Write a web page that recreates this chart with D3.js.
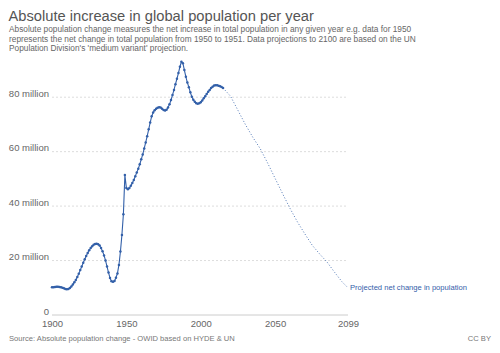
<!DOCTYPE html>
<html><head><meta charset="utf-8">
<script src="https://cdn.jsdelivr.net/npm/d3@7"></script>
<style>
html,body{margin:0;padding:0;background:#fff;}
svg{display:block;font-family:"Liberation Sans",Arial,Helvetica,sans-serif;}
</style></head>
<body>
<svg id="chart" width="500" height="353"></svg>
<script>
// ---- data (millions) ----
const histYears = d3.range(1900, 2016);
const histValues = [
 10.0,10.0,10.1,10.2,10.2,10.1,10.0,9.8,9.6,9.4,
 9.3,9.4,9.7,10.3,11.0,11.8,12.7,13.8,15.0,16.3,
 17.6,19.0,20.3,21.5,22.6,23.6,24.4,25.1,25.6,25.9,
 26.0,25.8,25.3,24.4,23.2,21.7,19.8,17.6,15.4,13.4,
 12.2,12.0,12.3,13.5,15.1,18.2,23.1,29.2,36.8,51.2,
 46.5,46.0,46.5,47.3,48.3,49.4,50.8,52.2,53.5,55.2,
 57.0,58.8,61.0,63.2,65.5,68.0,70.5,72.8,74.2,75.0,
 75.6,75.9,76.1,76.0,75.6,75.1,74.9,75.2,76.0,77.2,
 78.8,80.6,82.5,84.6,86.6,88.7,91.0,92.8,92.3,89.8,
 87.3,85.2,83.5,81.6,80.0,78.9,78.1,77.6,77.4,77.6,
 78.0,78.6,79.4,80.2,81.0,81.8,82.5,83.2,83.7,84.1,
 84.2,84.2,84.0,83.8,83.6,83.2
];
const projYears = [2015,2020,2025,2030,2035,2040,2045,2050,2055,2060,2065,2070,2075,2080,2085,2090,2095,2099];
const projValues = [83.2,80.2,75.0,69.8,65.1,60.9,55.6,50.0,44.4,39.0,34.0,29.6,25.4,22.2,19.2,15.5,12.0,9.8];
const yTicks = [0,20,40,60,80];
const xTicks = [1900,1950,2000,2050,2099];

const title = "Absolute increase in global population per year";
const subtitle = [
 "Absolute population change measures the net increase in total population in any given year e.g. data for 1950",
 "represents the net change in total population from 1950 to 1951. Data projections to 2100 are based on the UN",
 "Population Division's 'medium variant' projection."
];
const source = "Source: Absolute population change - OWID based on HYDE & UN";
const license = "CC BY";
const projLabel = "Projected net change in population";

const blue = "#3360a9";
const svg = d3.select("#chart");

const x = d3.scaleLinear().domain([1900, 2099]).range([52, 348]);
const y = d3.scaleLinear().domain([0, 80]).range([314.5, 96.7]);

// header
svg.append("text").attr("x", 8.5).attr("y", 21).attr("font-size", 14.7).attr("fill", "#555").text(title);
svg.selectAll("text.sub").data(subtitle).join("text").attr("class","sub")
  .attr("x", 9).attr("y", (d,i)=>32 + i*9.7).attr("font-size", 8.3).attr("fill", "#666").text(d=>d);

// y grid
const yAxis = d3.axisLeft(y).tickValues(yTicks).tickSize(0).tickPadding(3)
  .tickFormat(d => d === 0 ? "0" : d + " million");
const gy = svg.append("g").attr("transform", "translate(52,0)").call(yAxis);
gy.select(".domain").remove();
gy.selectAll("text").attr("font-size", 9.5).attr("fill", "#666").attr("font-family", "Liberation Sans,Arial,sans-serif").attr("dy", "-0.05em");
gy.selectAll(".tick").filter(d=>d!==0).append("line")
  .attr("x1", 0).attr("x2", 296).attr("stroke", "#ddd").attr("stroke-dasharray", "2,2");
gy.selectAll(".tick").filter(d=>d===0).append("line")
  .attr("x1", 0).attr("x2", 296).attr("stroke", "#ccc");

// x axis
const xAxis = d3.axisBottom(x).tickValues(xTicks).tickSize(0).tickPadding(6).tickFormat(d3.format("d"));
const gx = svg.append("g").attr("transform", "translate(0,314.5)").call(xAxis);
gx.select(".domain").remove();
gx.selectAll("text").attr("font-size", 9.5).attr("fill", "#666").attr("font-family", "Liberation Sans,Arial,sans-serif")
  .attr("dy", "0.71em");

// lines
const hist = histYears.map((yr,i)=>({x:yr, v:histValues[i]}));
const proj = projYears.map((yr,i)=>({x:yr, v:projValues[i]}));
const line = d3.line().x(d=>x(d.x)).y(d=>y(d.v));

svg.append("path").datum(proj).attr("d", line).attr("fill","none")
  .attr("stroke", blue).attr("stroke-width", 1).attr("stroke-dasharray", "1,2").attr("opacity", 0.85);

svg.append("path").datum(hist).attr("d", line).attr("fill","none")
  .attr("stroke", blue).attr("stroke-width", 1.1);
svg.selectAll("circle.m").data(hist).join("circle").attr("class","m")
  .attr("cx", d=>x(d.x)).attr("cy", d=>y(d.v)).attr("r", 1.25).attr("fill", blue);

// projection label
const last = proj[proj.length-1];
svg.append("text").attr("x", x(last.x)+2).attr("y", y(last.v)).attr("dy","0.35em")
  .attr("font-size", 7.6).attr("fill", blue).text(projLabel);

// footer
svg.append("text").attr("x", 9).attr("y", 341).attr("font-size", 7.6).attr("fill", "#777").text(source);
svg.append("text").attr("x", 491).attr("y", 341).attr("text-anchor","end").attr("font-size", 7.6).attr("fill", "#777").text(license);
</script>
</body></html>
